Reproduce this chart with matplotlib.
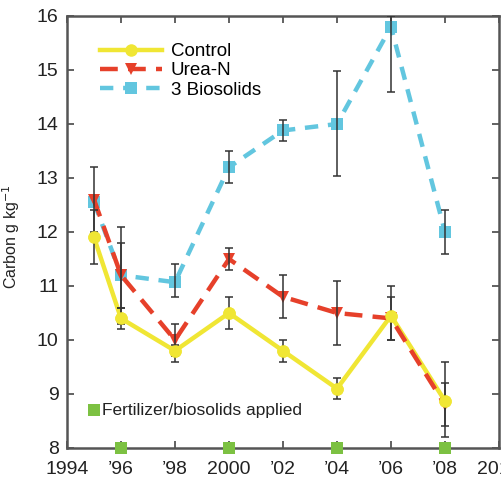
import matplotlib
matplotlib.use("Agg")
import matplotlib.pyplot as plt
from matplotlib import font_manager

names = {f.name for f in font_manager.fontManager.ttflist}
fam = "Liberation Sans Narrow" if "Liberation Sans Narrow" in names else "Liberation Sans"
plt.rcParams['font.family'] = [fam, 'DejaVu Sans']

years = [1995, 1996, 1998, 2000, 2002, 2004, 2006, 2008]
control = [11.9, 10.4, 9.8, 10.5, 9.8, 9.1, 10.45, 8.87]
control_lo = [0.5, 0.2, 0.2, 0.3, 0.2, 0.2, 0.45, 0.67]
control_hi = [0.5, 0.2, 0.1, 0.3, 0.2, 0.2, 0.55, 0.73]
urea = [12.6, 11.2, 10.0, 11.5, 10.8, 10.5, 10.4, 8.8]
urea_lo = [0.6, 0.9, 0.3, 0.2, 0.4, 0.6, 0.4, 0.4]
urea_hi = [0.6, 0.9, 0.3, 0.2, 0.4, 0.6, 0.4, 0.4]
bio = [12.55, 11.2, 11.07, 13.2, 13.88, 14.0, 15.8, 12.0]
bio_lo = [0.0, 0.6, 0.27, 0.3, 0.2, 0.97, 1.2, 0.4]
bio_hi = [0.0, 0.6, 0.33, 0.3, 0.2, 0.98, 0.2, 0.4]
applied = [1996, 2000, 2004, 2008]

xticks = [1994, 1996, 1998, 2000, 2002, 2004, 2006, 2008, 2010]
xticklabels = ["1994", "\u201996", "\u201998", "2000", "\u201902", "\u201904", "\u201906", "\u201908", "2010"]
yticks = [8, 9, 10, 11, 12, 13, 14, 15, 16]

c_yel = "#f0e634"
c_red = "#e6402a"
c_cyan = "#62c6df"
c_green = "#7cc142"
c_err = "#333333"

fig = plt.figure(figsize=(5.01, 4.79), dpi=100)
ax = fig.add_axes([67/501, 1-448/479, 432/501, 432/479])

ekw = dict(ecolor=c_err, elinewidth=1.1, capsize=3, capthick=1.1, zorder=5, fmt='none')
ax.errorbar(years[1:], bio[1:], yerr=[bio_lo[1:], bio_hi[1:]], **ekw)
ax.errorbar(years, urea, yerr=[urea_lo, urea_hi], **ekw)
ax.errorbar(years, control, yerr=[control_lo, control_hi], **ekw)

l3, = ax.plot(years, bio, color=c_cyan, lw=3.2, dashes=(3, 2.2), marker='s', ms=8,
              markeredgewidth=0, label="3 Biosolids", zorder=2)
l1, = ax.plot(years, control, color=c_yel, lw=3.2, marker='o', ms=9,
              markeredgewidth=0, label="Control", zorder=3)
l2, = ax.plot(years, urea, color=c_red, lw=3.2, dashes=(4, 2.3), marker='v', ms=9,
              markeredgewidth=0, label="Urea-N", zorder=4)
ax.plot(years, control, linestyle='none', color=c_yel, marker='o', ms=9,
        markeredgewidth=0, zorder=6)

ax.plot(applied, [8]*len(applied), linestyle='none', marker='s', ms=8, color=c_green,
        markeredgewidth=0, clip_on=False, zorder=7)
ax.plot([1995], [8.7], linestyle='none', marker='s', ms=8, color=c_green, markeredgewidth=0)
ax.text(1995.3, 8.7, "Fertilizer/biosolids applied", fontsize=12.5, va='center', ha='left', color="#222222")

ax.set_xlim(1994, 2010)
ax.set_ylim(8, 16)
ax.set_xticks(xticks)
ax.set_xticklabels(xticklabels)
ax.set_yticks(yticks)
ax.tick_params(direction='in', length=5, width=1.3, color="#555555", labelsize=14,
               top=True, right=True, labelcolor="#222222")
ax.tick_params(axis='x', pad=9)
ax.tick_params(axis='y', pad=6)
for s in ax.spines.values():
    s.set_color("#555555")
    s.set_linewidth(1.8)
ax.set_ylabel("Carbon g kg$^{-1}$", fontsize=11.5, color="#222222", labelpad=10)
ax.yaxis.set_label_coords(-0.105, 0.49)

leg = ax.legend(handles=[l1, l2, l3], loc='upper left', bbox_to_anchor=(0.06, 0.955),
                frameon=False, fontsize=13.5, handlelength=3.3, handletextpad=0.45,
                labelspacing=0.12, borderaxespad=0)

fig.savefig("out.png", dpi=100)
